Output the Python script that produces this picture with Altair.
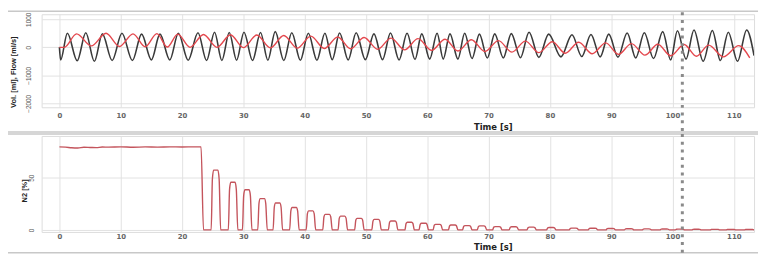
import altair as alt
import pandas as pd

# ---------------- data ----------------
# Flow (black) : alternating troughs / peaks  (time s, ml/s)
flow_pts = [
    (0, 0), (0.2, -450), (1.3, 500), (2.9, -480), (4.3, 520), (5.7, -500), (7.0, 480), (8.6, -470),
    (10.2, 500), (11.9, -470), (13.4, 470), (15.0, -450), (16.4, 470), (18.0, -450), (19.4, 500),
    (21.0, -460), (22.6, 520), (24.0, -470), (25.3, 540), (26.5, -470), (27.7, 530), (28.9, -460),
    (30.1, 540), (31.5, -470), (32.8, 530), (34.0, -460), (35.2, 560), (36.6, -470), (37.9, 520),
    (39.3, -460), (40.6, 500), (42.0, -460), (43.3, 500), (44.5, -440), (45.7, 510), (47.1, -450),
    (48.4, 520), (49.9, -440), (51.3, 480), (52.7, -440), (54.0, 510), (55.4, -450), (56.7, 500),
    (58.0, -430), (59.1, 480), (60.4, -420), (61.6, 500), (62.6, -420), (63.7, 480), (65.0, -420),
    (66.1, 500), (67.3, -400), (68.5, 470), (69.8, -380), (71.0, 480), (72.4, -380), (73.7, 490),
    (75.2, -370), (76.6, 540), (78.2, -360), (79.8, 470), (81.8, -340), (83.6, 450), (85.2, -330),
    (86.7, 460), (88.2, -340), (89.6, 470), (91.1, -350), (92.6, 510), (94.0, -380), (95.4, 520),
    (96.9, -400), (98.4, 560), (99.7, -450), (100.8, 590), (102.2, -420), (103.5, 620), (105.0, -500),
    (106.5, 600), (107.8, -470), (109.1, 540), (110.6, -500), (112.1, 620), (113.3, -300),
]

# Volume (red): alternating peaks / troughs (time s, ml)
vol_pts = [
    (0, 0), (0.8, 0), (2.8, 480), (5.2, 50), (7.6, 500), (9.8, 30), (12.0, 480), (14.0, 20),
    (15.9, 490), (17.6, 10), (19.3, 470), (21.3, 0), (23.5, 460), (25.7, 0), (27.9, 450), (30.0, -10),
    (32.2, 440), (34.4, -20), (36.6, 420), (38.8, -30), (41.0, 400), (43.2, -40), (45.4, 370),
    (47.5, -50), (49.7, 350), (51.9, -70), (54.1, 330), (56.3, -90), (58.5, 310), (60.7, -110),
    (62.9, 290), (65.0, -130), (67.2, 270), (69.4, -150), (71.6, 240), (73.8, -170), (76.0, 220),
    (78.2, -190), (80.4, 200), (82.5, -210), (84.7, 180), (86.9, -230), (89.1, 160), (91.2, -250),
    (93.3, 130), (95.5, -280), (97.6, 110), (99.7, -300), (101.9, 100), (103.9, -320), (105.9, 80),
    (108.3, -340), (110.8, 60), (112.6, -380),
]

# N2 plateau before washout (time s, %)
n2_plateau = [
    (0, 79.5), (1, 79.3), (2, 78.7), (3, 78.5), (4, 79.2), (5, 79.0), (6, 78.8), (7, 79.4), (8, 79.3),
    (10, 79.6), (12, 79.2), (14, 79.5), (16, 79.3), (18, 79.6), (20, 79.4), (22, 79.6), (23.1, 79.5),
    (23.5, 0),
]
# N2 expiratory pulses: centre time (s) and peak (%)
pulse_t = [25.5, 28.3, 30.6, 33.1, 35.6, 38.3, 41.0, 43.7, 46.2, 48.9, 51.7, 54.4, 57.1, 59.4, 61.7,
           64.2, 66.5, 68.9, 71.4, 74.1, 77.0, 80.2, 83.9, 87.0, 89.9, 92.9, 95.8, 98.7, 101.2, 103.9,
           106.9, 109.5, 112.5]
pulse_v = [57.3, 45.6, 38.4, 29.9, 25.8, 21.4, 18.2, 14.8, 13.2, 11.0, 10.1, 8.5, 7.3, 6.3, 5.3,
           4.7, 4.1, 3.8, 3.1, 3.0, 2.6, 2.2, 1.7, 1.6, 1.3, 1.1, 0.9, 0.8, 0.7, 0.6,
           0.5, 0.4, 0.4]

marker_t = 101.6
x_ticks = list(range(0, 111, 10))
flow_ticks = [-2000, -1000, 0, 1000]
n2_ticks = [0, 50]

# ---------------- tables ----------------
flow_df = pd.DataFrame(flow_pts, columns=["t", "v"])
vol_df = pd.DataFrame(vol_pts, columns=["t", "v"])

n2_rows = list(n2_plateau)
for c, p in zip(pulse_t, pulse_v):
    n2_rows += [(c - 0.75, 0), (c - 0.55, 0.85 * p), (c - 0.35, p), (c + 0.35, p),
                (c + 0.55, 0.85 * p), (c + 0.8, 0)]
n2_rows.append((113.3, 0.3))
n2_df = pd.DataFrame(n2_rows, columns=["t", "v"])

one = pd.DataFrame({"a": [0]})

XDOM = [-2.9, 113.3]
W = 720
ROT_FONT = "Liberation Sans"


def x_enc(title_y, label_pad):
    return alt.X(
        "t:Q",
        scale=alt.Scale(domain=XDOM, nice=False, zero=False),
        axis=alt.Axis(
            values=x_ticks, labelAngle=0, labelFont="DejaVu Sans", labelFontWeight="bold",
            labelFontSize=7, labelColor="#666", labelBaseline="middle", labelPadding=label_pad,
            labelFlush=False, labelOverlap=False, ticks=False, domain=False, gridColor="#e2e2e2",
            title="Time [s]", titleX=456, titleY=title_y, titleAlign="center",
            titleBaseline="middle", titleFont="DejaVu Sans", titleFontSize=8.5,
            titleFontWeight="bold", titleColor="#222",
        ),
    )


def y_enc(domain, ticks, pad, title, tx, ty):
    return alt.Y(
        "v:Q",
        scale=alt.Scale(domain=domain, nice=False, zero=False),
        axis=alt.Axis(
            values=ticks, format="d", labelAngle=270, labelAlign="center", labelBaseline="middle",
            labelPadding=pad, labelFont=ROT_FONT, labelFontSize=6.5, labelColor="#555",
            labelOverlap=False, labelFlush=False, ticks=False, domain=False, gridColor="#e2e2e2",
            title=title, titleAngle=270, titleX=tx, titleY=ty,
            titleAlign="center", titleBaseline="middle", titleFont=ROT_FONT, titleFontSize=7.5,
            titleFontWeight="bold", titleColor="#222",
        ),
    )


def frame_layers(h_top, h_bot, dot_top, dot_bot):
    top = alt.Chart(one).mark_rule(color="#c8c8c8", strokeWidth=1.5).encode(
        x=alt.value(-34), x2=alt.value(724), y=alt.value(h_top))
    bot = alt.Chart(one).mark_rule(color="#c8c8c8", strokeWidth=1.5).encode(
        x=alt.value(-34), x2=alt.value(724), y=alt.value(h_bot))
    dot = alt.Chart(one).mark_rule(color="#8a8a8a", strokeWidth=3, strokeDash=[3, 4.8]).encode(
        x=alt.X(datum=marker_t), y=alt.value(dot_top), y2=alt.value(dot_bot))
    return [top, bot, dot]


# ---------------- top panel ----------------
x1 = x_enc(19, 8)
y1 = y_enc([-2140, 1180], flow_ticks, 13, "Vol. [ml], Flow [ml/s]", -28, 58)

flow_line = alt.Chart(flow_df).mark_line(
    color="#3a3a3a", strokeWidth=1.6, interpolate="monotone", clip=True
).encode(x=x1, y=y1)
vol_line = alt.Chart(vol_df).mark_line(
    color="#e4474d", strokeWidth=1.4, interpolate="monotone", clip=True
).encode(x=x1, y=y1)

top = alt.layer(flow_line, vol_line, *frame_layers(-3, 119, -2, 119)).properties(width=W, height=94)

# ---------------- bottom panel ----------------
x2 = x_enc(15, 5)
y2 = y_enc([-2, 90], n2_ticks, 10.5, "N2 [%]", -17, 55)
n2_line = alt.Chart(n2_df).mark_line(
    color="#c4545c", strokeWidth=1.4, interpolate="monotone", clip=True
).encode(x=x2, y=y2)

bottom = alt.layer(n2_line, *frame_layers(-2, 118, -2, 120)).properties(width=W, height=97)

chart = alt.vconcat(top, bottom, spacing=-2).properties(
    padding={"left": -2, "top": 0, "right": 0, "bottom": 0}
).configure_view(strokeWidth=0).configure_axis(labelOverlap=False).configure(background="white")

chart.save("out.html", embed_options={"renderer": "svg", "actions": False})
